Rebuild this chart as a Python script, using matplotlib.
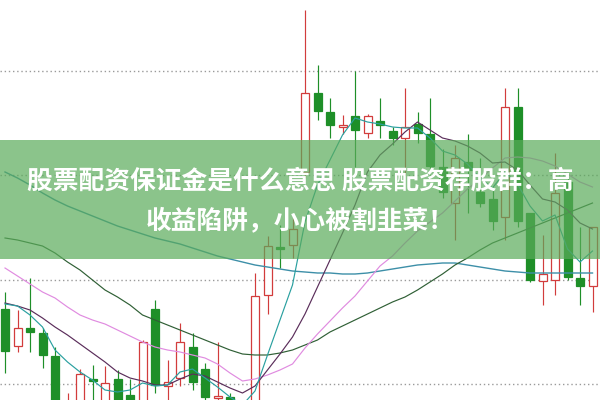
import matplotlib
matplotlib.use("Agg")
import matplotlib.pyplot as plt
import numpy as np

# ---- data (price-like units, visible window 0..400) ----
opens  = [91, 54, 72, 67, 44, -20, -10, 21, -10, 21, 5, -10, 91, 14, 22, 53, 31, 2, 3, -20,
          -20, 105, 153, 155, 228, 307, 288, 273, 284, 267, 279, 269, 262, 276, 266, 233, 197, 238,
          208, 201, 183, 293, 187, 119, 120, 218, 122, 114]
closes = [49, 72, 68, 45, -10, -5, 26, 19, 17, -5, -20, 58, 15, 18, 58, 18, 3, 4, -15, -40,
          104, 154, 151, 171, 307, 289, 275, 275, 270, 284, 275, 262, 273, 267, 234, 208, 242, 230,
          197, 179, 293, 179, 120, 126, 207, 123, 114, 173]
highs  = [108, 90, 122, 72, 53, 7, 31, 35, 34, 30, 21, 60, 100, 40, 77, 67, 37, 58, 7, -12,
          127, 164, 175, 186, 390, 335, 302, 285, 329, 286, 302, 273, 312, 288, 302, 251, 255, 266,
          242, 213, 312, 312, 187, 165, 247, 224, 173, 173]
lows   = [27, 48, 48, 32, -20, -25, -15, -10, -15, -12, -25, -15, 7, -5, 14, 10, -5, -10, -20, -45,
          -25, 86, 132, 142, 222, 280, 262, 266, 233, 262, 262, 255, 225, 257, 230, 202, 160, 187,
          193, 170, 160, 173, 118, 95, 105, 120, 95, 88]

ma5  = [96, 94, 85, 73, 50, 38, 28, 20, 10, 8, 10, 17, 14, 15, 28, 31, 22, 13, 3, -5,
        9, 45, 80, 115, 178, 215, 240, 265, 282, 278, 276, 273, 272, 272, 262, 249, 245, 236,
        222, 212, 228, 216, 194, 179, 185, 151, 138, 149]
ma10 = [97, 94, 90, 82, 73, 65, 56, 47, 38, 28, 22, 19, 15, 15, 21, 26, 24, 18, 12, 7,
        14, 30, 46, 63, 86, 113, 140, 167, 195, 228, 245, 256, 268, 278, 270, 262, 259, 254,
        247, 237, 238, 230, 215, 201, 198, 190, 177, 171]
ma20 = [132, 124, 116, 108, 102, 93, 85, 80, 76, 70, 64, 58, 53, 50, 48, 45, 42, 36, 27, 19,
        21, 25, 30, 36, 52, 66, 79, 92, 104, 119, 134, 144, 157, 169, 178, 187, 199, 211,
        221, 232, 242, 243, 242, 239, 234, 226, 218, 213]
ma30 = [162, 160, 157, 154, 147, 138, 130, 120, 110, 103, 95, 85, 80, 75, 70, 65, 60, 55, 50, 46,
        45, 45, 47, 50, 55, 60, 68, 74, 80, 86, 92, 98, 103, 110, 118, 126, 135, 142,
        150, 157, 162, 167, 172, 177, 182, 187, 192, 197]
ma60 = [228, 222, 215, 207, 200, 194, 189, 184, 179, 174, 170, 166, 162, 159, 156, 152, 148, 144, 141, 138,
        135, 133, 131, 129, 128, 127, 127, 126, 126, 127, 129, 131, 133, 135, 136, 137, 137, 135,
        133, 131, 129, 128, 127, 127, 127, 127, 127, 127]

grid_levels = [16, 120, 225, 329]
banner_span = (141, 260)
title_lines = ["股票配资保证金是什么意思 股票配资荐股群：高", "收益陷阱，小心被割韭菜！"]

RED = "#d23c3c"
GREEN = "#1e8f28"

fig = plt.figure(figsize=(6, 4), dpi=100)
ax = fig.add_axes([0, 0, 1, 1])
ax.set_xlim(-0.4, 47.6)
ax.set_ylim(0, 400)
ax.axis("off")

for g in grid_levels:
    ax.axhline(g, color="#9a9a9a", linestyle=(0, (1, 2)), linewidth=1.0, zorder=1)

x = np.arange(len(opens))
o = np.array(opens, float)
c = np.array(closes, float)
h = np.array(highs, float)
l = np.array(lows, float)
up = c >= o

wick_colors = [RED if u else GREEN for u in up]
ax.vlines(x, l, h, colors=wick_colors, linewidth=0.85, zorder=3)

bottoms = np.minimum(o, c)
heights = np.maximum(np.abs(c - o), 1.5)
ax.bar(x[up], heights[up], bottom=bottoms[up], width=0.64,
       facecolor="white", edgecolor=RED, linewidth=0.9, zorder=4)
ax.bar(x[~up], heights[~up], bottom=bottoms[~up], width=0.64,
       facecolor=GREEN, edgecolor=GREEN, linewidth=0.9, zorder=4)

ax.plot(x, ma60, color="#3d8fa8", linewidth=1.0, zorder=5)
ax.plot(x, ma30, color="#2f5f35", linewidth=0.85, zorder=5)
ax.plot(x, ma20, color="#e08be0", linewidth=0.85, zorder=5)
ax.plot(x, ma10, color="#5a2d5a", linewidth=0.85, zorder=5)
ax.plot(x, ma5, color="#2aa0a0", linewidth=0.85, zorder=5)

ax.axhspan(banner_span[0], banner_span[1], color="#5aab5a", alpha=0.7, linewidth=0, zorder=10)

fam = ["Noto Sans CJK SC", "DejaVu Sans"]
ax.text(0.5, 1 - 181 / 400, title_lines[0], transform=ax.transAxes, ha="center", va="center",
        fontsize=18.5, fontweight="bold", color="white", family=fam, zorder=11)
ax.text(0.5, 1 - 221 / 400, title_lines[1], transform=ax.transAxes, ha="center", va="center",
        fontsize=18.5, fontweight="bold", color="white", family=fam, zorder=11)

fig.savefig("out.png", dpi=100)
